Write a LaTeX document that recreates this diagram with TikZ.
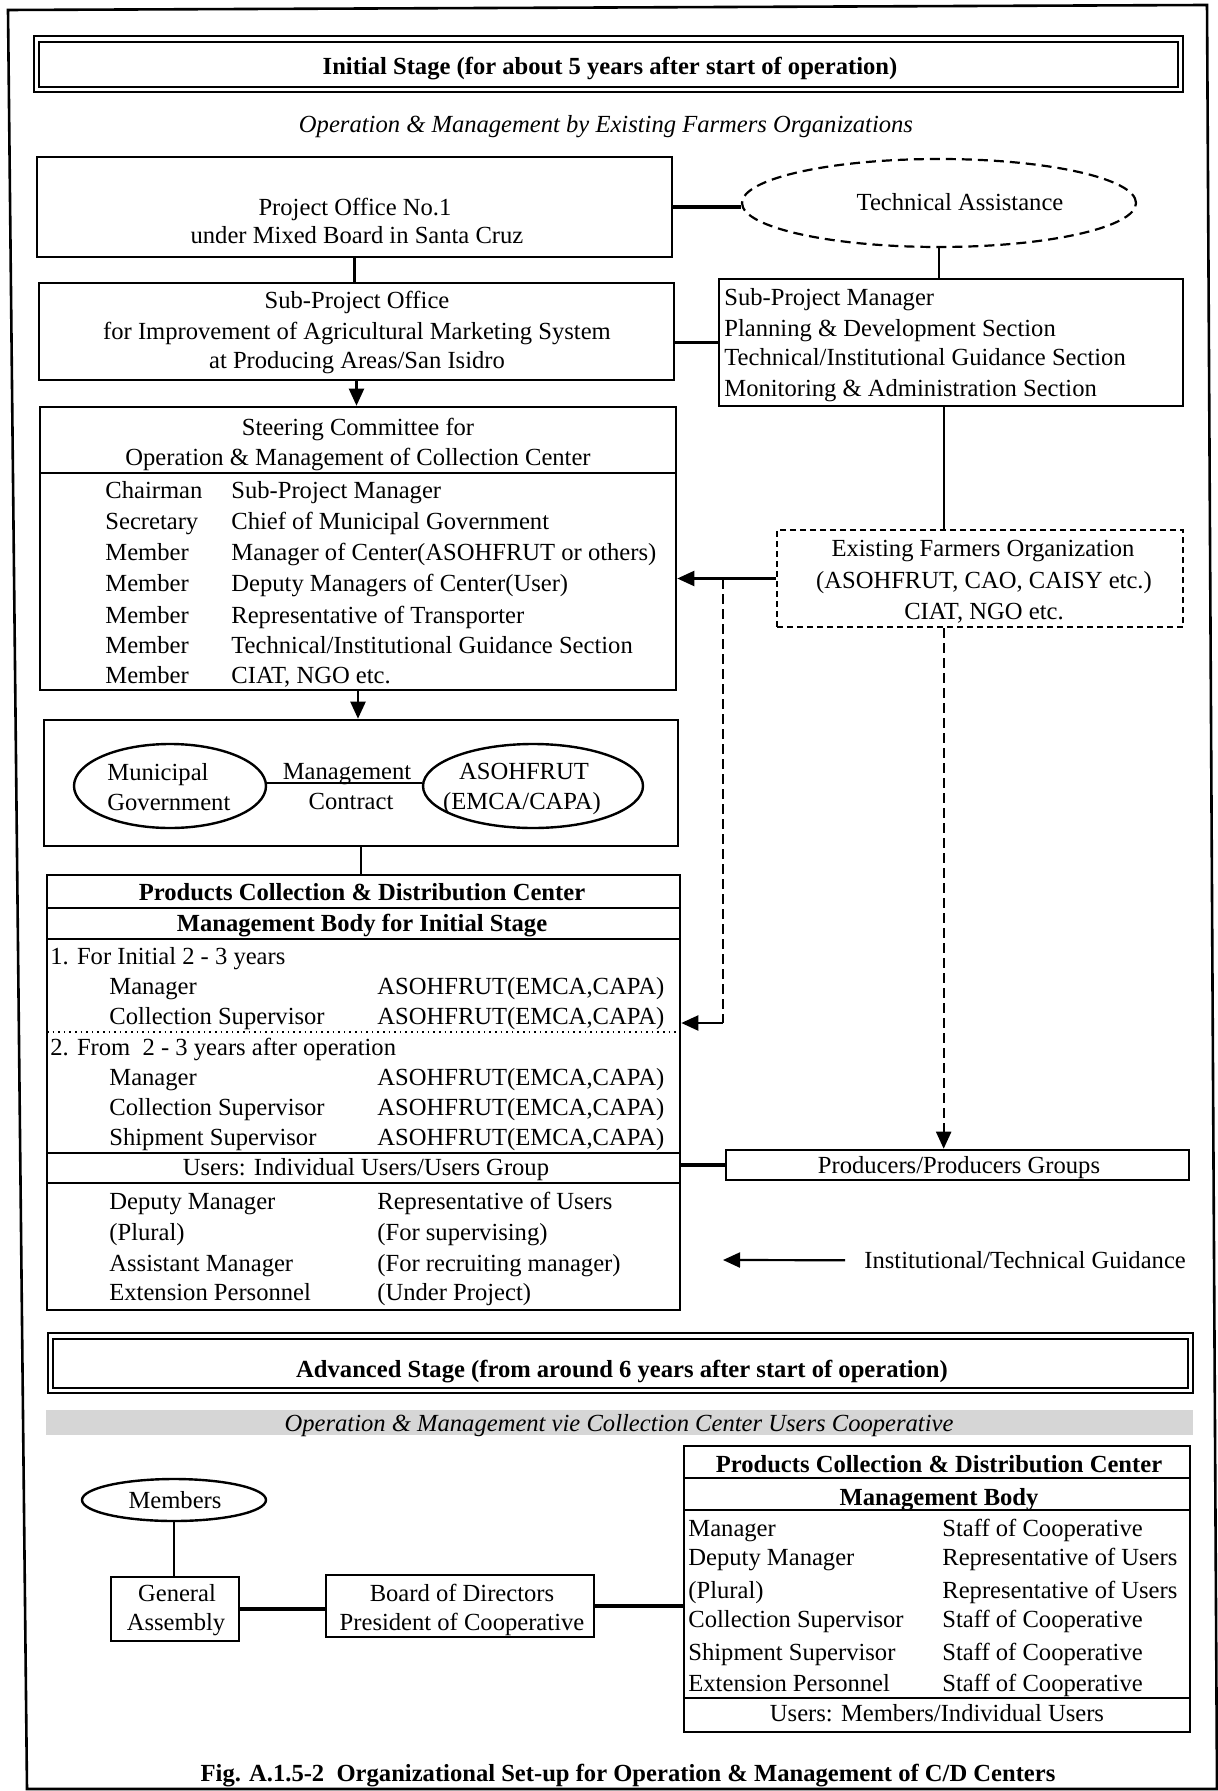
\documentclass[tikz,border=0pt]{standalone}
\usepackage{fontspec}
\setmainfont{Liberation Serif}
\usetikzlibrary{arrows.meta,fit,shapes.geometric,calc}

\tikzset{
  box/.style={draw, line width=1.3pt, inner sep=0pt},
  dbox/.style={draw, line width=1.1pt, inner sep=0pt, dash pattern=on 3pt off 2pt},
  oval/.style={draw, ellipse, line width=1.2pt, inner sep=0pt},
  txt/.style={inner sep=0pt, anchor=mid, yshift=-1.5pt},
  ltxt/.style={inner sep=0pt, anchor=mid west, yshift=-1.5pt},
  heavy/.style={line width=1.9pt},
  thin/.style={line width=1.1pt},
  rule/.style={line width=1pt},
  tip/.style={-{Triangle[length=8.5pt,width=7.5pt]}},
  dashline/.style={line width=1.1pt, dash pattern=on 5pt off 2.5pt},
}

\begin{document}
\fontsize{12.3}{14}\selectfont
\begin{tikzpicture}[x=0.5pt,y=-0.5pt]
\useasboundingbox (0,0) rectangle (1218,1791);

% page frame
\draw[line width=1.3pt] (8,10) -- (1207,5) -- (1217,1789) -- (27,1789) -- cycle;

% ---------- initial stage ----------
\node[box, line width=0.8pt, fit={(34,36) (1183,92)}] (st1) {};
\draw[line width=1pt] (39,42) rectangle (1178,87);
\node[txt, font=\bfseries] (st1t) at (610,66) {Initial Stage (for about 5 years after start of operation)};

\node[txt, font=\itshape] (sub1) at (606,124) {Operation \& Management by Existing Farmers Organizations};

% project office and technical assistance
\node[box, fit={(37,157) (672,257)}] (po) {};
\node[txt] (po1) at (355,207) {Project Office No.1};
\node[txt] (po2) at (357,235) {under Mixed Board in Santa Cruz};

\node[oval, line width=1.1pt, dash pattern=on 5pt off 3pt, minimum width=197pt, minimum height=44pt] (ta) at (939,203) {};
\node[txt] (tat) at (960,202) {Technical Assistance};

% sub-project office
\node[box, fit={(39,283) (674,380)}] (spo) {};
\node[txt] (spo1) at (357,300) {Sub-Project Office};
\node[txt] (spo2) at (357,331) {for Improvement of Agricultural Marketing System};
\node[txt] (spo3) at (357,360) {at Producing Areas/San Isidro};

% sub-project manager
\node[box, fit={(719,279) (1183,406)}] (spm) {};
\node[ltxt] (spm1) at (724,297) {Sub-Project Manager};
\node[ltxt] (spm2) at (724,328) {Planning \& Development Section};
\node[ltxt] (spm3) at (724,357) {Technical/Institutional Guidance Section};
\node[ltxt] (spm4) at (724,388) {Monitoring \& Administration Section};

% steering committee
\node[box, fit={(40,407) (676,690)}] (sc) {};
\draw[rule] (40,473) -- (676,473);
\node[txt] (sct1) at (358,427) {Steering Committee for};
\node[txt] (sct2) at (358,457) {Operation \& Management of Collection Center};
\node[ltxt] (scl1) at (105,490) {Chairman};
\node[ltxt] (scr1) at (231,490) {Sub-Project Manager};
\node[ltxt] (scl2) at (105,521) {Secretary};
\node[ltxt] (scr2) at (231,521) {Chief of Municipal Government};
\node[ltxt] (scl3) at (105,552) {Member};
\node[ltxt] (scr3) at (231,552) {Manager of Center(ASOHFRUT or others)};
\node[ltxt] (scl4) at (105,583) {Member};
\node[ltxt] (scr4) at (231,583) {Deputy Managers of Center(User)};
\node[ltxt] (scl5) at (105,615) {Member};
\node[ltxt] (scr5) at (231,615) {Representative of Transporter};
\node[ltxt] (scl6) at (105,645) {Member};
\node[ltxt] (scr6) at (231,645) {Technical/Institutional Guidance Section};
\node[ltxt] (scl7) at (105,675) {Member};
\node[ltxt] (scr7) at (231,675) {CIAT, NGO etc.};

% existing farmers organization
\node[dbox, fit={(777,530) (1183,627)}] (efo) {};
\node[txt] (efo1) at (983,548) {Existing Farmers Organization};
\node[txt] (efo2) at (984,580) {(ASOHFRUT, CAO, CAISY etc.)};
\node[txt] (efo3) at (984,611) {CIAT, NGO etc.};

% management contract
\node[box, fit={(44,720) (678,846)}] (mb) {};
\node[oval, minimum width=96pt, minimum height=42pt] (mg) at (170,786) {};
\node[ltxt] (mg1) at (107,772) {Municipal};
\node[ltxt] (mg2) at (107,802) {Government};
\node[oval, minimum width=110pt, minimum height=42pt] (as) at (533,786) {};
\node[txt] (as1) at (524,771) {ASOHFRUT};
\node[txt] (as2) at (522,801) {(EMCA/CAPA)};
\node[txt] (mc1) at (347,771) {Management};
\node[txt] (mc2) at (351,801) {Contract};

% collection & distribution center, initial stage
\node[box, fit={(47,875) (680,1310)}] (pc) {};
\draw[rule] (47,908) -- (680,908);
\draw[rule] (47,939) -- (680,939);
\draw[line width=0.8pt, dotted] (47,1032) -- (680,1032);
\draw[rule] (47,1153) -- (680,1153);
\draw[rule] (47,1183) -- (680,1183);
\node[txt, font=\bfseries] (pct1) at (362,892) {Products Collection \& Distribution Center};
\node[txt, font=\bfseries] (pct2) at (362,923) {Management Body for Initial Stage};
\node[ltxt] (pca) at (50,956) {1. For Initial 2 - 3 years};
\node[ltxt] (pca1) at (109,986) {Manager};
\node[ltxt] (pca1r) at (377,986) {ASOHFRUT(EMCA,CAPA)};
\node[ltxt] (pca2) at (109,1016) {Collection Supervisor};
\node[ltxt] (pca2r) at (377,1016) {ASOHFRUT(EMCA,CAPA)};
\node[ltxt] (pcb) at (50,1047) {2. From\ \ 2 - 3 years after operation};
\node[ltxt] (pcb1) at (109,1077) {Manager};
\node[ltxt] (pcb1r) at (377,1077) {ASOHFRUT(EMCA,CAPA)};
\node[ltxt] (pcb2) at (109,1107) {Collection Supervisor};
\node[ltxt] (pcb2r) at (377,1107) {ASOHFRUT(EMCA,CAPA)};
\node[ltxt] (pcb3) at (109,1137) {Shipment Supervisor};
\node[ltxt] (pcb3r) at (377,1137) {ASOHFRUT(EMCA,CAPA)};
\node[txt] (pcu) at (366,1167) {Users: Individual Users/Users Group};
\node[ltxt] (pcc1) at (109,1201) {Deputy Manager};
\node[ltxt] (pcc1r) at (377,1201) {Representative of Users};
\node[ltxt] (pcc2) at (109,1232) {(Plural)};
\node[ltxt] (pcc2r) at (377,1232) {(For supervising)};
\node[ltxt] (pcc3) at (109,1263) {Assistant Manager};
\node[ltxt] (pcc3r) at (377,1263) {(For recruiting manager)};
\node[ltxt] (pcc4) at (109,1292) {Extension Personnel};
\node[ltxt] (pcc4r) at (377,1292) {(Under Project)};

% producers
\node[box, fit={(726,1150) (1189,1180)}] (prod) {};
\node[txt] (prodt) at (959,1165) {Producers/Producers Groups};

\node[ltxt] (guid) at (864,1260) {Institutional/Technical Guidance};
\coordinate (g1) at (723,1260);

% ---------- advanced stage ----------
\node[box, line width=0.8pt, fit={(48,1333) (1193,1393)}] (st2) {};
\draw[line width=1pt] (53,1339) rectangle (1188,1388);
\node[txt, font=\bfseries] (st2t) at (622,1369) {Advanced Stage (from around 6 years after start of operation)};

\fill[gray!32] (46,1410) rectangle (1193,1435);
\node[txt, font=\itshape] (sub2) at (619,1423) {Operation \& Management vie Collection Center Users Cooperative};

\node[oval, minimum width=92pt, minimum height=21pt] (mem) at (174,1500) {};
\node[txt] (memt) at (175,1500) {Members};

\node[box, fit={(111,1577) (239,1641)}] (ga) {};
\node[txt] (ga1) at (177,1593) {General};
\node[txt] (ga2) at (176,1622) {Assembly};

\node[box, fit={(326,1575) (594,1637)}] (bd) {};
\node[txt] (bd1) at (462,1593) {Board of Directors};
\node[txt] (bd2) at (462,1622) {President of Cooperative};

\node[box, fit={(684,1446) (1190,1732)}] (pc2) {};
\draw[rule] (684,1478) -- (1190,1478);
\draw[rule] (684,1510) -- (1190,1510);
\draw[rule] (684,1698) -- (1190,1698);
\node[txt, font=\bfseries] (pc2t1) at (939,1464) {Products Collection \& Distribution Center};
\node[txt, font=\bfseries] (pc2t2) at (939,1497) {Management Body};
\node[ltxt] (q1) at (688,1528) {Manager};
\node[ltxt] (q1r) at (942,1528) {Staff of Cooperative};
\node[ltxt] (q2) at (688,1557) {Deputy Manager};
\node[ltxt] (q2r) at (942,1557) {Representative of Users};
\node[ltxt] (q3) at (688,1590) {(Plural)};
\node[ltxt] (q3r) at (942,1590) {Representative of Users};
\node[ltxt] (q4) at (688,1619) {Collection Supervisor};
\node[ltxt] (q4r) at (942,1619) {Staff of Cooperative};
\node[ltxt] (q5) at (688,1652) {Shipment Supervisor};
\node[ltxt] (q5r) at (942,1652) {Staff of Cooperative};
\node[ltxt] (q6) at (688,1683) {Extension Personnel};
\node[ltxt] (q6r) at (942,1683) {Staff of Cooperative};
\node[txt] (pc2u) at (937,1713) {Users: Members/Individual Users};

\node[txt, font=\bfseries] (cap) at (628,1773) {Fig. A.1.5-2\ \ Organizational Set-up for Operation \& Management of C/D Centers};

% ---------- connectors ----------
\draw[heavy] (po.east) -- (po.east -| ta.west);
\draw[thin] (po.south) -- (po.south |- spo.north);
\draw[thin] (ta.south) -- (ta.south |- spm.north);
\draw[heavy] (spm.west) -- (spm.west -| spo.east);
\draw[thin, tip] (spo.south) -- (spo.south |- sc.north);
\coordinate (spmb) at ($(spm.south west)!0.485!(spm.south east)$);
\draw[thin] (spmb) -- (spmb |- efo.north);
\draw[thin, tip] (efo.west) -- (efo.west -| sc.east);
\coordinate (j1) at (723,579);
\coordinate (j2) at (723,1023);
\draw[dashline] (j1) -- (j2);
\draw[thin, tip] (j2) -- (j2 -| pc.east);
\coordinate (efob) at ($(efo.south west)!0.411!(efo.south east)$);
\draw[dashline, tip] (efob) -- (efob |- prod.north);
\draw[thin, tip] (sc.south) -- (sc.south |- mb.north);
\draw[thin] ([yshift=1.5pt]mg.east) -- ([yshift=1.5pt]as.west);
\draw[thin] (mb.south) -- (mb.south |- pc.north);
\draw[heavy] (prod.west) -- (prod.west -| pc.east);
\draw[thin, tip] ([xshift=-9.5pt]guid.west) -- (g1);
\draw[thin] (mem.south) -- (mem.south |- ga.north);
\draw[heavy] (ga.east) -- (ga.east -| bd.west);
\draw[heavy] (bd.east) -- (bd.east -| pc2.west);

\end{tikzpicture}
\end{document}
